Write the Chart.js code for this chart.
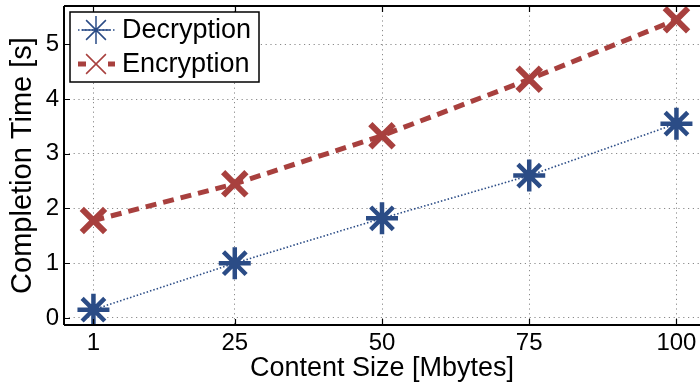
<!DOCTYPE html>
<html>
<head>
<meta charset="utf-8">
<script src="https://cdn.jsdelivr.net/npm/chart.js@4/dist/chart.umd.min.js"></script>
<style>
  html, body { margin: 0; padding: 0; background: #fff; }
  #wrap { width: 700px; height: 392px; position: relative; }
</style>
</head>
<body>
<div id="wrap"><canvas id="c"></canvas></div>
<script>
// Content sizes (MB) and measured completion times (s)
const contentSizes = [1, 25, 50, 75, 100];
const decryptionTimes = [0.15, 1.0, 1.82, 2.6, 3.55];
const encryptionTimes = [1.78, 2.45, 3.33, 4.36, 5.45];
const xTickValues = [1, 25, 50, 75, 100];
const yTickValues = [0, 1, 2, 3, 4, 5];

const BLUE = '#2B4C86';
const RED = '#A8403E';
const FONT = "'Liberation Sans', Arial, Helvetica, sans-serif";

const toPoints = (ys) => contentSizes.map((x, i) => ({ x: x, y: ys[i] }));

// Frame, inward tick marks and the boxed legend
const framePlugin = {
  id: 'frame',
  afterDraw(chart) {
    const { ctx, chartArea: a, scales } = chart;
    ctx.save();
    ctx.strokeStyle = '#000';
    ctx.lineWidth = 2;
    ctx.beginPath();
    ctx.moveTo(a.left, a.top); ctx.lineTo(a.right, a.top);
    ctx.moveTo(a.left, a.top); ctx.lineTo(a.left, a.bottom);
    ctx.moveTo(a.left, a.bottom); ctx.lineTo(a.right, a.bottom);
    ctx.stroke();
    const tl = 6;
    ctx.lineWidth = 1.2;
    ctx.beginPath();
    scales.x.ticks.forEach(t => {
      const px = Math.round(scales.x.getPixelForValue(t.value)) + 0.5;
      ctx.moveTo(px, a.bottom); ctx.lineTo(px, a.bottom - tl);
      ctx.moveTo(px, a.top); ctx.lineTo(px, a.top + tl);
    });
    scales.y.ticks.forEach(t => {
      const py = Math.round(scales.y.getPixelForValue(t.value)) + 0.5;
      ctx.moveTo(a.left, py); ctx.lineTo(a.left + tl, py);
    });
    ctx.stroke();

    // legend box
    const bx = 70, by = 12, bw = 189, bh = 70;
    ctx.fillStyle = '#fff';
    ctx.fillRect(bx, by, bw, bh);
    ctx.strokeStyle = '#000';
    ctx.lineWidth = 1.5;
    ctx.strokeRect(bx, by, bw, bh);
    const rows = [30, 64];
    chart.data.datasets.forEach((ds, i) => {
      const cy = rows[i];
      ctx.save();
      ctx.strokeStyle = ds.borderColor;
      ctx.lineWidth = i === 0 ? 1.5 : 5;
      ctx.setLineDash(i === 0 ? [1.5, 2] : [8, 22]);
      ctx.beginPath();
      ctx.moveTo(78, cy); ctx.lineTo(115, cy);
      ctx.stroke();
      ctx.restore();
      ctx.save();
      ctx.strokeStyle = ds.pointBorderColor;
      Chart.helpers.drawPoint(ctx, { pointStyle: ds.pointStyle, radius: 14, borderWidth: 1.2, rotation: 0 }, 96, cy);
      ctx.restore();
      ctx.fillStyle = '#000';
      ctx.font = '27px ' + FONT;
      ctx.textBaseline = 'middle';
      ctx.textAlign = 'left';
      ctx.fillText(ds.label, 122, cy + 1);
    });
    ctx.restore();
  }
};

new Chart(document.getElementById('c'), {
  type: 'line',
  data: {
    datasets: [
      {
        label: 'Decryption',
        data: toPoints(decryptionTimes),
        borderColor: BLUE,
        borderWidth: 1.6,
        borderDash: [1.5, 2],
        pointStyle: 'star',
        pointRadius: 16,
        pointBorderWidth: 4.5,
        pointBorderColor: BLUE,
        pointBackgroundColor: BLUE,
        fill: false,
        tension: 0,
        clip: false
      },
      {
        label: 'Encryption',
        data: toPoints(encryptionTimes),
        borderColor: RED,
        borderWidth: 5,
        borderDash: [11, 7],
        pointStyle: 'crossRot',
        pointRadius: 16.5,
        pointBorderWidth: 6,
        pointBorderColor: RED,
        pointBackgroundColor: RED,
        fill: false,
        tension: 0,
        clip: false
      }
    ]
  },
  options: {
    responsive: true,
    maintainAspectRatio: false,
    animation: false,
    layout: { autoPadding: false, padding: { top: 6, right: 0, left: 0, bottom: 0 } },
    plugins: {
      legend: { display: false },
      tooltip: { enabled: false }
    },
    scales: {
      x: {
        type: 'linear',
        min: -4,
        max: 104,
        afterBuildTicks(scale) { scale.ticks = xTickValues.map(v => ({ value: v })); },
        afterFit(scale) {
          scale.height = 67;
          scale.paddingLeft = 0;
          scale.paddingRight = 0;
        },
        ticks: {
          color: '#000',
          font: { family: FONT, size: 24 },
          padding: 4,
          maxRotation: 0,
          callback: (v) => String(v)
        },
        grid: { color: '#8a8a8a', lineWidth: 1, drawTicks: false },
        border: { display: false, dash: [1.2, 3.6] },
        title: {
          display: true,
          text: 'Content Size [Mbytes]',
          color: '#000',
          font: { family: FONT, size: 27 },
          padding: { top: 0, bottom: 7 }
        }
      },
      y: {
        type: 'linear',
        min: -0.13,
        max: 5.7,
        afterBuildTicks(scale) { scale.ticks = yTickValues.map(v => ({ value: v })); },
        afterFit(scale) {
          scale.width = 64;
          scale.paddingTop = 0;
          scale.paddingBottom = 0;
        },
        ticks: {
          color: '#000',
          font: { family: FONT, size: 24 },
          padding: 5,
          callback: (v) => String(v)
        },
        grid: { color: '#8a8a8a', lineWidth: 1, drawTicks: false },
        border: { display: false, dash: [1.2, 3.6] },
        title: {
          display: true,
          text: 'Completion Time [s]',
          color: '#000',
          font: { family: FONT, size: 29 },
          padding: { top: 6, bottom: 0 }
        }
      }
    }
  },
  plugins: [framePlugin]
});
</script>
</body>
</html>
